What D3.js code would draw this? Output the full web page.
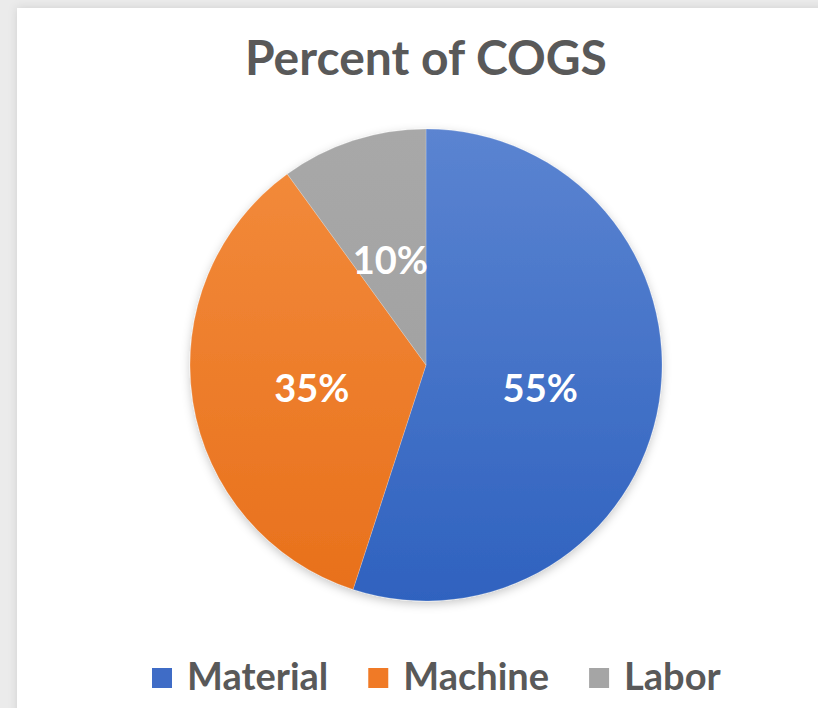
<!DOCTYPE html>
<html>
<head>
<meta charset="utf-8">
<script src="https://cdn.jsdelivr.net/npm/d3@7"></script>
<style>
  html, body { margin: 0; padding: 0; background: #ebebeb; }
  svg { display: block; }
</style>
</head>
<body>
<svg id="chart" width="818" height="708"></svg>
<script>
const title = "Percent of COGS";
const categories = ["Material", "Machine", "Labor"];
const values = [55, 35, 10];
const labels = ["55%", "35%", "10%"];
const colorsTop = ["#5b84d1", "#f38c3d", "#a8a8a8"];
const colorsBottom = ["#2f62bf", "#e8701b", "#9d9d9d"];
const legendColors = ["#3f6cc6", "#f07a26", "#a5a5a5"];

const W = 818, H = 708;
const svg = d3.select("#chart");
const defs = svg.append("defs");

// outer frame shadow
const fs = defs.append("filter").attr("id", "frameShadow").attr("x", "-10%").attr("y", "-10%").attr("width", "120%").attr("height", "120%");
fs.append("feDropShadow").attr("dx", 0).attr("dy", 0).attr("stdDeviation", 5).attr("flood-color", "#000").attr("flood-opacity", 0.12);

svg.append("rect").attr("x", 0).attr("y", 0).attr("width", W).attr("height", H).attr("fill", "#ebebeb");
svg.append("rect").attr("x", 17).attr("y", 8).attr("width", W + 20).attr("height", H + 20)
  .attr("fill", "#ffffff").attr("filter", "url(#frameShadow)");

const cx = 426, cy = 365, R = 236;

// gradients
values.forEach((v, i) => {
  const g = defs.append("linearGradient").attr("id", "grad" + i)
    .attr("gradientUnits", "userSpaceOnUse")
    .attr("x1", 0).attr("y1", cy - R).attr("x2", 0).attr("y2", cy + R);
  g.append("stop").attr("offset", "0%").attr("stop-color", colorsTop[i]);
  g.append("stop").attr("offset", "100%").attr("stop-color", colorsBottom[i]);
});

const ps = defs.append("filter").attr("id", "pieShadow").attr("x", "-20%").attr("y", "-20%").attr("width", "140%").attr("height", "140%");
ps.append("feDropShadow").attr("dx", 0).attr("dy", 3).attr("stdDeviation", 5).attr("flood-color", "#000").attr("flood-opacity", 0.22);

// title
svg.append("text")
  .attr("x", cx).attr("y", 75)
  .attr("text-anchor", "middle")
  .style("font-family", "Lato, 'Open Sans', sans-serif")
  .style("font-weight", "700")
  .style("font-size", "48px")
  .attr("fill", "#595959")
  .text(title);

const pie = d3.pie().sort(null).value(d => d)(values);
const arc = d3.arc().innerRadius(0).outerRadius(R);
const labelArc = d3.arc().innerRadius(R * 0.49).outerRadius(R * 0.49);

const g = svg.append("g").attr("transform", `translate(${cx},${cy})`);
const pieG = g.append("g").attr("filter", "url(#pieShadow)");
pieG.selectAll("path").data(pie).join("path")
  .attr("d", arc)
  .attr("transform", `translate(0,0)`)
  .attr("fill", (d, i) => "url(#grad" + i + ")")
  .attr("stroke", "rgba(255,255,255,0.25)")
  .attr("stroke-width", 0.8);

// gradient coordinates are user space relative to the group; fix by setting gradient in group coords
defs.selectAll("linearGradient").attr("y1", -R).attr("y2", R);

g.selectAll("text.lbl").data(pie).join("text")
  .attr("class", "lbl")
  .attr("transform", d => { const c = labelArc.centroid(d); return `translate(${c[0]},${c[1] + 4})`; })
  .attr("text-anchor", "middle")
  .attr("dominant-baseline", "central")
  .style("font-family", "Lato, 'Open Sans', sans-serif")
  .style("font-weight", "700")
  .style("font-size", "38px")
  .attr("fill", "#ffffff")
  .text((d, i) => labels[i]);

// legend
const legend = svg.append("g");
let x = 152;
const baseY = 690, sq = 20;
categories.forEach((c, i) => {
  legend.append("rect").attr("x", x).attr("y", baseY - 2 - sq).attr("width", sq).attr("height", sq)
    .attr("fill", legendColors[i]);
  const t = legend.append("text").attr("x", x + sq + 15).attr("y", baseY)
    .style("font-family", "Lato, 'Open Sans', sans-serif")
    .style("font-weight", "700")
    .style("font-size", "38px")
    .attr("fill", "#595959")
    .text(c);
  const w = t.node().getComputedTextLength();
  x = x + sq + 15 + w + 40;
});
</script>
</body>
</html>
